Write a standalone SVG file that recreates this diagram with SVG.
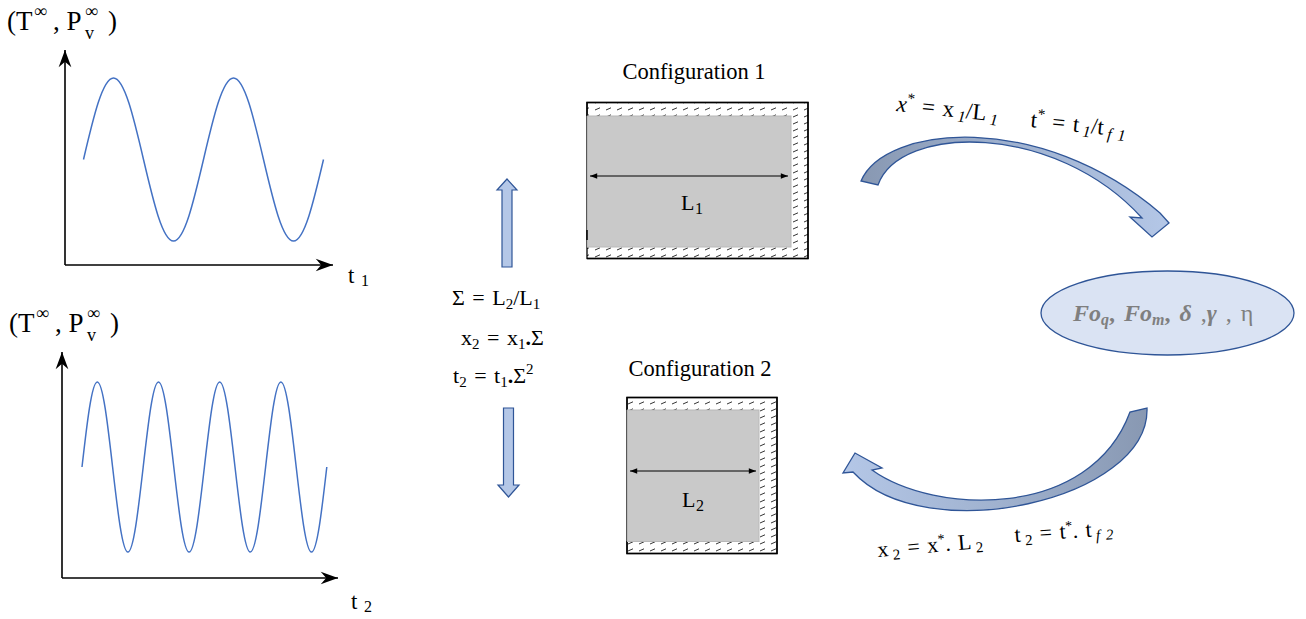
<svg xmlns="http://www.w3.org/2000/svg" width="1306" height="619" viewBox="0 0 1306 619">
<style>
text{font-family:"Liberation Serif","Times New Roman",serif;fill:#000}
.axis{stroke:#000;stroke-width:1.6;fill:none}
.wave{stroke:#4472c4;stroke-width:1.5;fill:none}
.wall{fill:url(#hatch);stroke:#000;stroke-width:1.3}
.border{fill:none;stroke:#000;stroke-width:1.4}
.solid{fill:#c9c9c9;stroke:#b8b8b8;stroke-width:1}
.dim{stroke:#000;stroke-width:1;fill:none}
.block{fill:#b4c7e7;stroke:#2f5597;stroke-width:1.2}
.curve{stroke:#2f5597;stroke-width:1.3}
.frm{font-size:22px;word-spacing:2px}
.sub{font-size:15px}
</style>
<defs>
<pattern id="hatch" width="11" height="7" patternUnits="userSpaceOnUse">
<rect width="11" height="7" fill="#fff"/>
<line x1="1" y1="5" x2="6" y2="2.8" stroke="#000" stroke-width="0.8"/>
</pattern>
<marker id="ax" viewBox="-20 -8 22 16" markerWidth="20" markerHeight="16" refX="0" refY="0" orient="auto" markerUnits="userSpaceOnUse">
<path d="M0,0 L-19,-7 L-13,0 L-19,7 Z" fill="#000"/>
</marker>
<marker id="dh" viewBox="-10 -5 11 10" markerWidth="10" markerHeight="8" refX="0" refY="0" orient="auto-start-reverse" markerUnits="userSpaceOnUse">
<path d="M0,0 L-9,-3.5 L-9,3.5 Z" fill="#000"/>
</marker>
<linearGradient id="g1" x1="0" y1="0" x2="1" y2="0">
<stop offset="0" stop-color="#8898b2"/>
<stop offset="0.45" stop-color="#9eb0cd"/>
<stop offset="1" stop-color="#b4c7e7"/>
</linearGradient>
<linearGradient id="g2" x1="1" y1="0" x2="0" y2="0">
<stop offset="0" stop-color="#8898b2"/>
<stop offset="0.45" stop-color="#9eb0cd"/>
<stop offset="1" stop-color="#b4c7e7"/>
</linearGradient>
</defs>

<g id="graph1">
<text font-size="27"><tspan x="7" y="30">(T</tspan><tspan x="34" y="17" font-size="18">∞</tspan><tspan x="53" y="30">, P</tspan><tspan x="85" y="17" font-size="18">∞</tspan><tspan x="85" y="39" font-size="18">v</tspan><tspan x="108" y="30">)</tspan></text>
<path class="axis" d="M65,265 V50" marker-end="url(#ax)"/>
<path class="axis" d="M65,265 H333" marker-end="url(#ax)"/>
<path class="wave" d="M83.5,159.5 C93.28,117.75 102.64,78 113.5,78 S133.72,117.75 143.5,159.5 S162.64,241 173.5,241 S193.72,201.25 203.5,159.5 S222.64,78 233.5,78 S253.72,117.75 263.5,159.5 S282.64,241 293.5,241 S313.72,201.25 323.5,159.5"/>
<text font-size="23"><tspan x="348" y="283">t</tspan><tspan x="361" y="286" font-size="16">1</tspan></text>
</g>

<g id="graph2">
<text font-size="27"><tspan x="9" y="332">(T</tspan><tspan x="36" y="319" font-size="18">∞</tspan><tspan x="55" y="332">, P</tspan><tspan x="87" y="319" font-size="18">∞</tspan><tspan x="87" y="341" font-size="18">v</tspan><tspan x="110" y="332">)</tspan></text>
<path class="axis" d="M62,578 V352" marker-end="url(#ax)"/>
<path class="axis" d="M62,578 H338" marker-end="url(#ax)"/>
<path class="wave" d="M82,467 C86.99,423.45 91.76,382 97.3,382 S107.61,423.45 112.6,467 S122.36,552 127.9,552 S138.21,510.55 143.2,467 S152.96,382 158.5,382 S168.81,423.45 173.8,467 S183.56,552 189.1,552 S199.41,510.55 204.4,467 S214.16,382 219.7,382 S230.01,423.45 235,467 S244.76,552 250.3,552 S260.61,510.55 265.6,467 S275.36,382 280.9,382 S291.21,423.45 296.2,467 S305.96,552 311.5,552 S321.81,510.55 326.8,467"/>
<text font-size="23"><tspan x="351" y="609">t</tspan><tspan x="364" y="612" font-size="16">2</tspan></text>
</g>

<g id="config1">
<text x="694" y="79" font-size="22.5" text-anchor="middle">Configuration 1</text>
<rect class="wall" x="587" y="102.5" width="221" height="156" stroke="none"/>
<path class="border" d="M587,116 V102.5 H808 V258.5 H587"/>
<rect class="solid" x="587.5" y="116" width="203.5" height="131"/>
<line x1="587" y1="230" x2="587" y2="240" stroke="#000" stroke-width="1.5"/>
<line class="dim" x1="590" y1="176" x2="788" y2="176" marker-start="url(#dh)" marker-end="url(#dh)"/>
<text font-size="22"><tspan x="681" y="210">L</tspan><tspan x="695" y="214" font-size="16">1</tspan></text>
</g>

<g id="config2">
<text x="700" y="376" font-size="22.5" text-anchor="middle">Configuration 2</text>
<rect class="wall" x="627" y="397.5" width="150" height="156" stroke="none"/>
<path class="border" d="M627,410 V397.5 H777 V553.5 H627 V541"/>
<rect class="solid" x="627.5" y="410" width="131.5" height="131.5"/>
<line class="dim" x1="630" y1="471" x2="756" y2="471" marker-start="url(#dh)" marker-end="url(#dh)"/>
<text font-size="22"><tspan x="682" y="507">L</tspan><tspan x="696" y="511" font-size="16">2</tspan></text>
</g>

<g id="scaling">
<text class="frm" x="452" y="305">Σ = L<tspan class="sub" dy="4">2</tspan><tspan dy="-4">/L</tspan><tspan class="sub" dy="4">1</tspan></text>
<text class="frm" x="461" y="345">x<tspan class="sub" dy="4">2</tspan><tspan dy="-4"> = x</tspan><tspan class="sub" dy="4">1</tspan><tspan dy="-4" font-weight="bold">.</tspan>Σ</text>
<text class="frm" x="453" y="383">t<tspan class="sub" dy="4">2</tspan><tspan dy="-4"> = t</tspan><tspan class="sub" dy="4">1</tspan><tspan dy="-4" font-weight="bold">.</tspan>Σ<tspan class="sub" dy="-9">2</tspan></text>
</g>

<g id="params">
<ellipse cx="1167.5" cy="313" rx="126.5" ry="42" fill="#dae3f3" stroke="#2f5597" stroke-width="1.3"/>
<text x="1073" y="321" font-size="24" style="fill:#7f7f7f;word-spacing:3px"><tspan font-weight="bold" font-style="italic">Fo</tspan><tspan font-weight="bold" font-style="italic" font-size="16" dy="4">q</tspan><tspan font-weight="bold" dy="-4">,  </tspan><tspan font-weight="bold" font-style="italic">Fo</tspan><tspan font-weight="bold" font-style="italic" font-size="16" dy="4">m</tspan><tspan font-weight="bold" dy="-4">,  </tspan><tspan font-weight="bold" font-style="italic">δ</tspan><tspan> ,</tspan><tspan font-weight="bold" font-style="italic">γ</tspan><tspan> , η</tspan></text>
</g>

<g id="connectors">
<path class="block" d="M502,267 V190 H497 L507,179 L517,190 H512 V267 Z"/>
<path class="block" d="M503.5,408 H513.5 V485 H519 L508.5,497 L498,485 H503.5 Z"/>
<path class="curve" fill="url(#g1)" d="M861,181 C885,125 1040,110 1160,213 L1169,223 L1152,237 L1130,217 L1142,218 C1055,122 900,124 878,185 Z"/>
<path class="curve" fill="url(#g2)" d="M872,470 C935,515 1090,520 1130,412 L1147,408 C1150,500 925,550 853,472 L843,473 L855,453 L882,468 Z"/>
</g>

<g id="transform-labels" class="frm">
<text transform="translate(896,111) rotate(6)" font-size="23"><tspan font-style="italic">x</tspan><tspan font-size="15" dy="-9">*</tspan><tspan dy="9"> = x</tspan><tspan font-size="16" font-style="italic" dx="4" dy="4">1</tspan><tspan dy="-4">/L</tspan><tspan font-size="16" font-style="italic" dx="4" dy="4">1</tspan></text>
<text transform="translate(1030,127) rotate(6)" font-size="23"><tspan>t</tspan><tspan font-size="15" dy="-9">*</tspan><tspan dy="9"> = t</tspan><tspan font-size="16" font-style="italic" dx="4" dy="4">1</tspan><tspan dy="-4">/t</tspan><tspan font-size="16" font-style="italic" dx="4" dy="4">f 1</tspan></text>
<text transform="translate(878,557) rotate(-5)" font-size="22"><tspan>x</tspan><tspan font-size="15" dx="4" dy="4">2</tspan><tspan dy="-4"> = x</tspan><tspan font-size="14" dy="-8">*</tspan><tspan dy="8">. L</tspan><tspan font-size="15" dx="4" dy="4">2</tspan></text>
<text transform="translate(1015,542) rotate(-4)" font-size="22"><tspan>t</tspan><tspan font-size="15" dx="4" dy="4">2</tspan><tspan dy="-4"> = t</tspan><tspan font-size="14" dy="-8">*</tspan><tspan dy="8">. t</tspan><tspan font-size="15" font-style="italic" dx="4" dy="4">f 2</tspan></text>
</g>
</svg>
